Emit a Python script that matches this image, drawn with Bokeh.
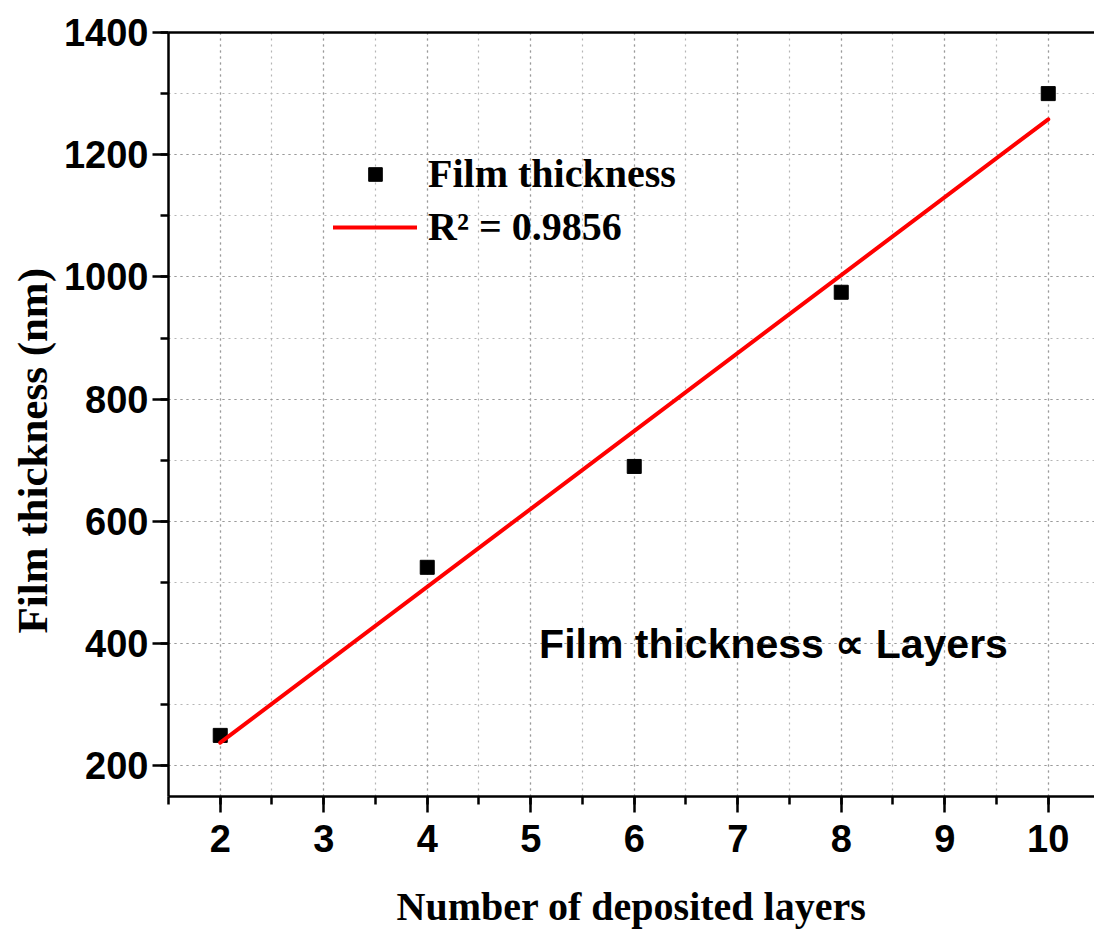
from bokeh.plotting import figure
from bokeh.models import (Range1d, SingleIntervalTicker, LinearAxis, FixedTicker,
                          Legend, LegendItem, Label, Title)
from bokeh.embed import file_html
from bokeh.resources import INLINE

layers = [2, 4, 6, 8, 10]
thickness = [250, 525, 690, 975, 1300]
fit_x = [2, 10]
fit_y = [238, 1258]
fit_label = "R\u00b2 = 0.9856"
series_label = "Film thickness"
x_title = "Number of deposited layers"
y_title = "Film thickness (nm)"
note = "Film thickness \u221d Layers"

p = figure(width=1094, height=937, output_backend="svg", toolbar_location=None,
           x_range=Range1d(1.5, 10.447), y_range=Range1d(150, 1400),
           min_border_left=168, min_border_right=0, min_border_top=32,
           min_border_bottom=141)
p.outline_line_color = None
p.background_fill_color = "white"
p.border_fill_color = "white"

for ax in (p.xaxis[0], p.yaxis[0]):
    ax.axis_line_width = 2.5
    ax.major_tick_line_width = 2.5
    ax.minor_tick_line_width = 2.5
    ax.major_tick_out = 16
    ax.major_tick_in = 0
    ax.minor_tick_out = 8
    ax.minor_tick_in = 0
    ax.major_label_text_font = "Liberation Sans"
    ax.major_label_text_font_style = "bold"
    ax.major_label_text_font_size = "38px"
    ax.major_label_text_color = "black"
    ax.axis_label_text_font = "Liberation Serif"
    ax.axis_label_text_font_style = "bold"
    ax.axis_label_text_font_size = "40px"
    ax.axis_label_text_color = "black"

p.xaxis[0].ticker = SingleIntervalTicker(interval=1, num_minor_ticks=2)
p.yaxis[0].ticker = SingleIntervalTicker(interval=200, num_minor_ticks=2)
p.xaxis[0].axis_label = x_title
p.xaxis[0].major_label_standoff = 12
p.xaxis[0].axis_label_standoff = 29
p.yaxis[0].major_label_standoff = 4

top = LinearAxis(ticker=FixedTicker(ticks=[]), major_label_text_font_size="0px",
                 axis_line_width=2.5, major_tick_out=0, minor_tick_out=0)
p.add_layout(top, "above")

# y-axis title as a side title so it can sit slightly below the frame centre
ytitle = Title(text=y_title, align="left", offset=163, standoff=10,
               text_font="Liberation Serif", text_font_style="bold",
               text_font_size="43px", text_color="black")
p.add_layout(ytitle, "left")

for g in (p.xgrid[0], p.ygrid[0]):
    g.grid_line_color = "#9a9a9a"
    g.grid_line_dash = "2 4"
    g.grid_line_width = 1.2
    g.minor_grid_line_color = "#b5b5b5"
    g.minor_grid_line_dash = "2 4"
    g.minor_grid_line_width = 1.2

sc = p.scatter(layers, thickness, marker="square", size=14, color="black")
ln = p.line(fit_x, fit_y, line_color="#ff0000", line_width=4, line_cap="round")

legend = Legend(items=[LegendItem(label=series_label, renderers=[sc]),
                       LegendItem(label=fit_label, renderers=[ln])],
                location=(165, 546), padding=0, margin=0, spacing=6,
                glyph_width=84, glyph_height=34, label_standoff=11,
                border_line_color=None, background_fill_alpha=0,
                label_text_font="Liberation Serif", label_text_font_style="bold",
                label_text_font_size="40px", label_text_color="black")
p.add_layout(legend)

p.add_layout(Label(x=605, y=153, x_units="screen", y_units="screen", text=note,
                   text_font="Liberation Sans", text_font_style="bold",
                   text_font_size="41px", text_align="center",
                   text_baseline="middle", text_color="black"))

open("out.html", "w").write(file_html(p, INLINE))
